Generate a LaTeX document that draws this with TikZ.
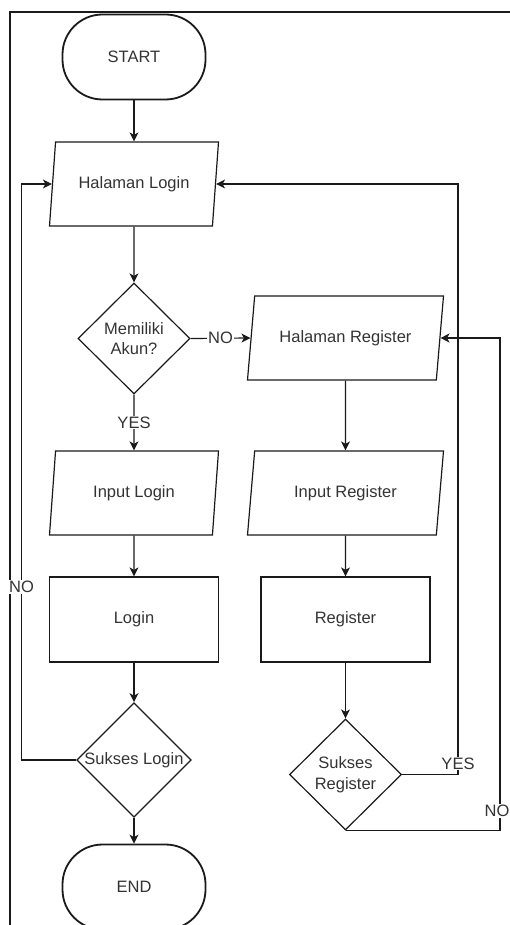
\documentclass[tikz,border=0pt]{standalone}
\usepackage{fontspec}
\setmainfont{Liberation Sans}
\usepackage{xcolor}
\usetikzlibrary{shapes.geometric,arrows.meta}
\definecolor{fline}{HTML}{1a1a1a}
\definecolor{ftext}{HTML}{333333}

\tikzset{
	base/.style={draw=fline, line width=1.2pt, text=ftext, inner sep=0pt, align=center, font=\fontsize{16.5pt}{20.5pt}\selectfont},
	terminal/.style={base, line width=1.8pt, rectangle, rounded corners=40pt, minimum width=143pt, minimum height=85pt},
	io/.style={base, trapezium, trapezium stretches body, minimum height=84pt},
	process/.style={base, rectangle, minimum width=169pt, minimum height=85pt},
	decision/.style={base, diamond, minimum width=112pt, minimum height=111pt},
	flow/.style={draw=fline, line width=1.2pt, -{Stealth[length=9pt,width=9pt,inset=2.5pt]}},
	lbl/.style={fill=white, text=ftext, inner sep=1pt, font=\fontsize{16.5pt}{20.5pt}\selectfont}
}

\begin{document}
\begin{tikzpicture}[x=1pt, y=-1pt]
		\useasboundingbox (0,0) rectangle (510,925);
		\draw[color=fline, line width=1.5pt] (10,930) -- (10,12) -- (515,12);

		\node[terminal] (start) at (134,57) {START};
		\node[io, trapezium left angle=68.5, trapezium right angle=111.5, minimum width=169pt] (hlogin) at (134,184) {Halaman Login};
		\node[decision] (akun) at (134,338.5) {Memiliki\\Akun?};
		\node[io, trapezium left angle=68.5, trapezium right angle=111.5, minimum width=169pt] (inlogin) at (134,493) {Input Login};
		\node[process] (login) at (134,619.5) {Login};
		\node[decision] (suklogin) at (134,760) {Sukses Login};
		\node[terminal] (stop) at (134,887) {END};

		\node[io, trapezium left angle=65, trapezium right angle=115, minimum width=196pt] (hreg) at (345.5,338) {Halaman Register};
		\node[io, trapezium left angle=65, trapezium right angle=115, minimum width=196pt] (inreg) at (345.5,493) {Input Register};
		\node[process] (reg) at (345.5,619.5) {Register};
		\node[decision] (sukreg) at (345.5,774.5) {Sukses\\Register};

		\coordinate (loopL) at (21.5,0);
		\coordinate (loopY) at (458,0);
		\coordinate (loopN) at (500,0);

		\draw[flow] (start) -- (hlogin);
		\draw[flow] (hlogin) -- (akun);
		\draw[flow] (akun.east) -- node[lbl] {NO} (hreg.left side);
		\draw[flow] (akun.south) -- node[lbl] {YES} (inlogin.north);
		\draw[flow] (inlogin) -- (login);
		\draw[flow] (login) -- (suklogin);
		\draw[flow] (suklogin) -- (stop);
		\draw[flow] (suklogin.west) -| node[lbl, pos=0.65] {NO} (loopL |- hlogin.left side) -- (hlogin.left side);

		\draw[flow] (hreg) -- (inreg);
		\draw[flow] (inreg) -- (reg);
		\draw[flow] (reg) -- (sukreg);
		\draw[flow] (sukreg.east) -| node[lbl, pos=0.5, yshift=11pt] {YES} (loopY |- hlogin.right side) -- (hlogin.right side);
		\draw[flow] (sukreg.south) -| node[lbl, pos=0.52, xshift=-3pt] {NO} (loopN |- hreg.right side) -- (hreg.right side);
	\end{tikzpicture}
\end{document}
